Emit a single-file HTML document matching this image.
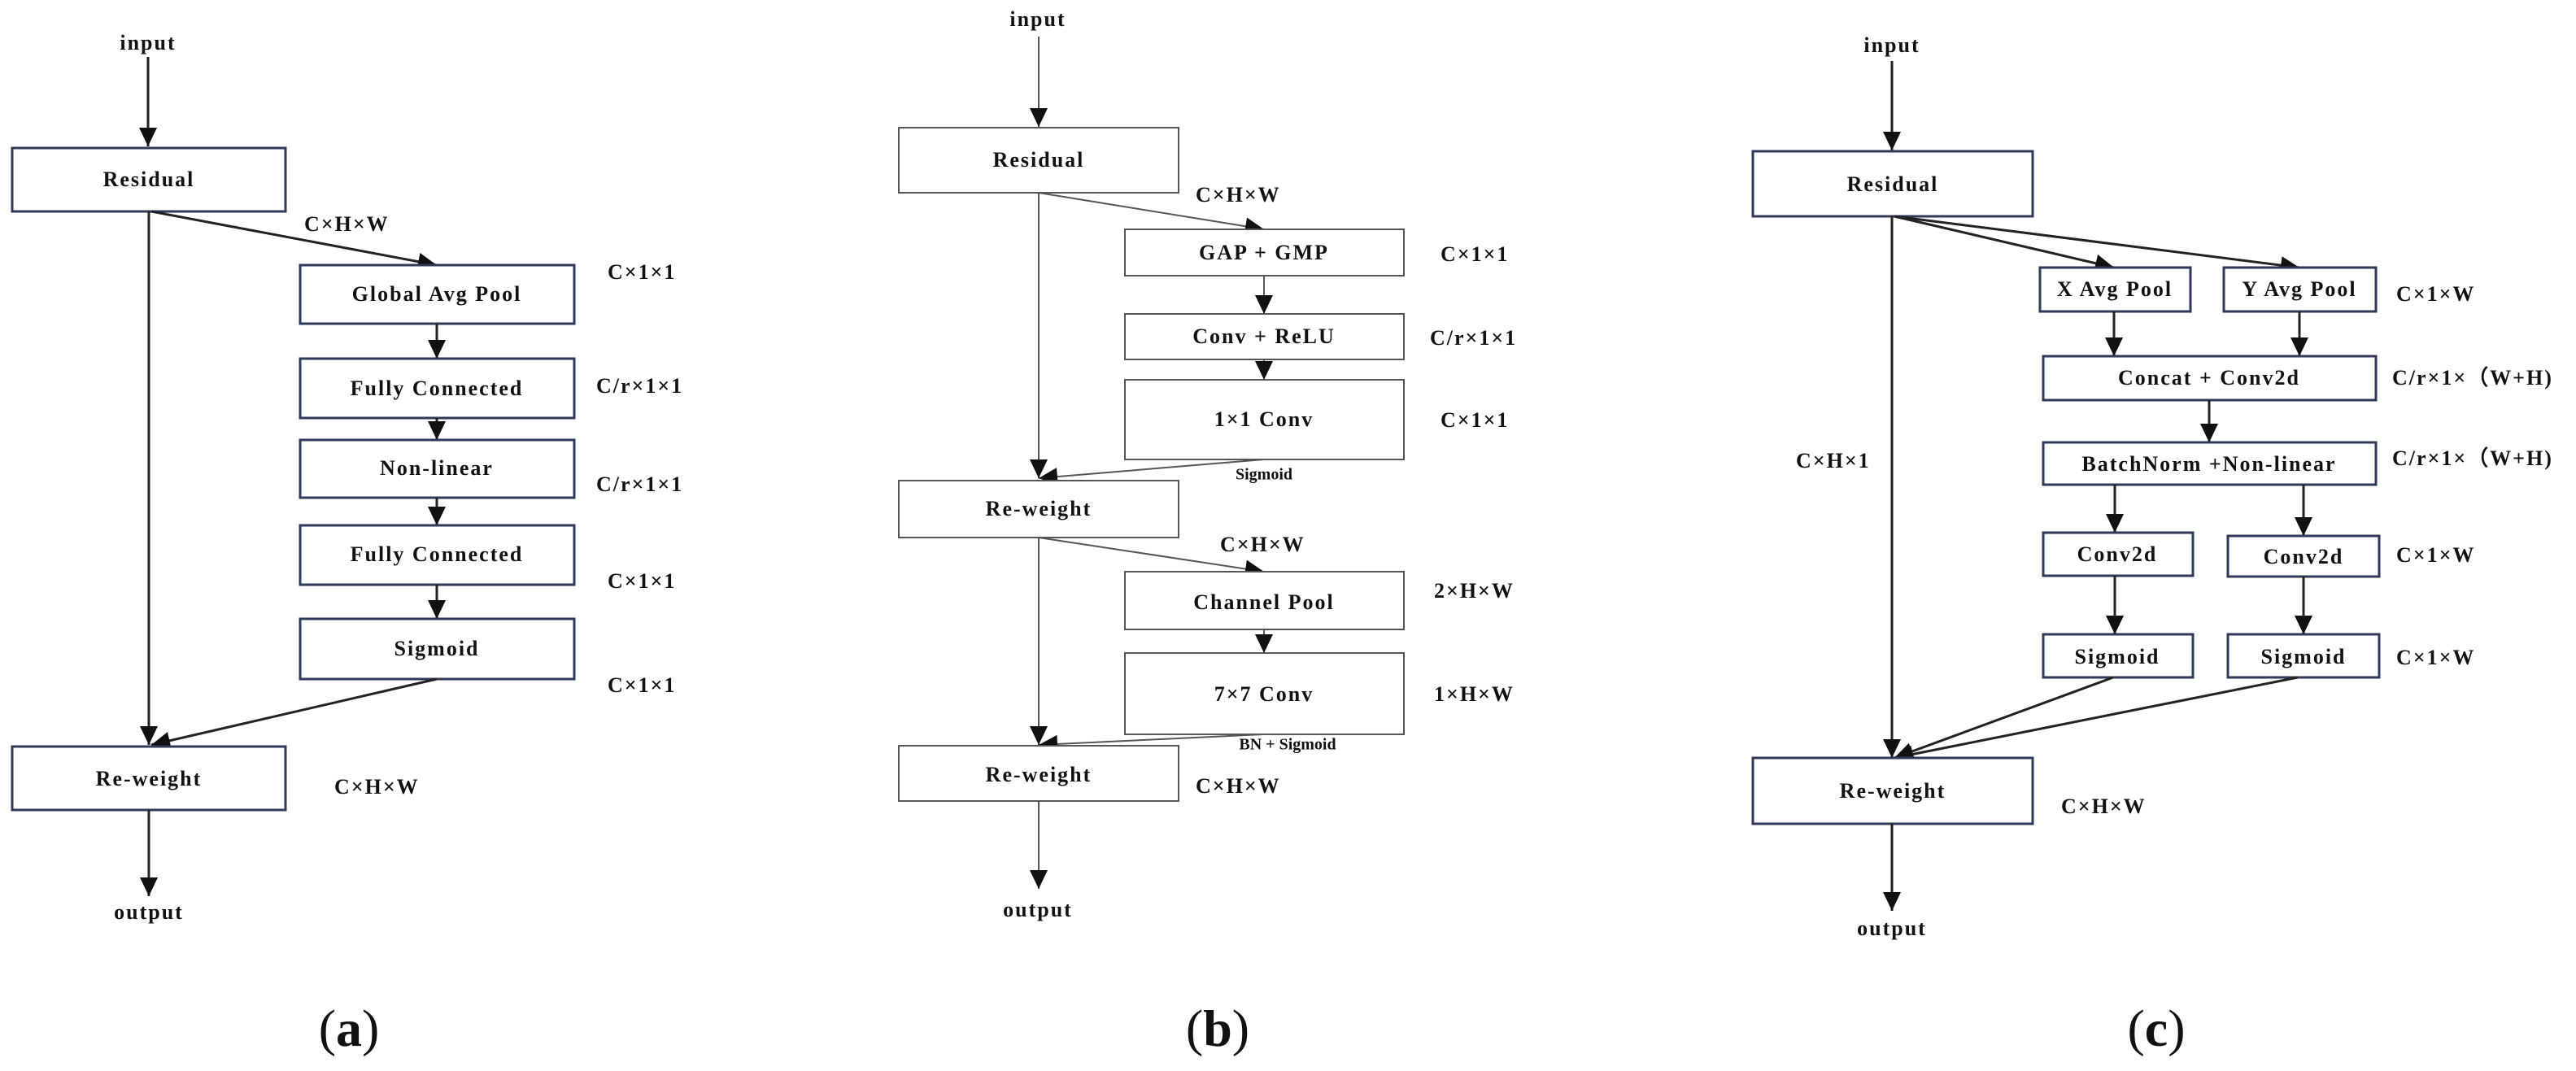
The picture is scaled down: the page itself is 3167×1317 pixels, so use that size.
<!DOCTYPE html>
<html><head><meta charset="utf-8"><style>
html,body{margin:0;padding:0;background:#fff;}
svg{display:block;}
text{font-family:"Liberation Serif",serif;font-weight:bold;font-size:26px;fill:#111;letter-spacing:2px;}
.l{dominant-baseline:middle;}
.c{text-anchor:middle;dominant-baseline:middle;}
.cap{font-size:64px;font-weight:normal;letter-spacing:0;}
.cap b{font-weight:bold;}
rect{fill:#fff;stroke:#2f3a5a;stroke-width:3;}
line{stroke:#222;stroke-width:3;}
.g line{stroke:#555;stroke-width:2;}
.g rect{stroke:#555;stroke-width:2;}
</style></head><body>
<svg width="3167" height="1317" viewBox="0 0 3167 1317" xmlns="http://www.w3.org/2000/svg">
<defs>
<marker id="ah" markerWidth="10" markerHeight="10" refX="9" refY="5" orient="auto" markerUnits="userSpaceOnUse" viewBox="0 0 10 10" style="overflow:visible">
<path d="M-14,-6 L9,5 L-14,16 Z" fill="#111"/>
</marker>
</defs>
<style>.a{marker-end:url(#ah);}</style>

<!-- Panel (a) -->
<text class="c" x="182" y="55">input</text>
<line class="a" x1="182" y1="70" x2="182" y2="180"/>
<rect x="15" y="182" width="336" height="78"/>
<text class="c" x="183" y="223">Residual</text>
<line class="a" x1="183" y1="260" x2="183" y2="916"/>
<line class="a" x1="186" y1="260" x2="537" y2="326"/>
<text class="l" x="374" y="278">C×H×W</text>
<rect x="369" y="326" width="337" height="72"/>
<text class="c" x="537" y="364">Global Avg Pool</text>
<line class="a" x1="537" y1="398" x2="537" y2="441"/>
<rect x="369" y="441" width="337" height="73"/>
<text class="c" x="537" y="480">Fully Connected</text>
<line class="a" x1="537" y1="514" x2="537" y2="541"/>
<rect x="369" y="541" width="337" height="71"/>
<text class="c" x="537" y="578">Non-linear</text>
<line class="a" x1="537" y1="612" x2="537" y2="646"/>
<rect x="369" y="646" width="337" height="73"/>
<text class="c" x="537" y="684">Fully Connected</text>
<line class="a" x1="537" y1="719" x2="537" y2="761"/>
<rect x="369" y="761" width="337" height="74"/>
<text class="c" x="537" y="800">Sigmoid</text>
<line class="a" x1="537" y1="835" x2="186" y2="916"/>
<text class="l" x="747" y="337">C×1×1</text>
<text class="l" x="733" y="477">C/r×1×1</text>
<text class="l" x="733" y="598">C/r×1×1</text>
<text class="l" x="747" y="717">C×1×1</text>
<text class="l" x="747" y="845">C×1×1</text>
<rect x="15" y="918" width="336" height="78"/>
<text class="c" x="183" y="960">Re-weight</text>
<text class="l" x="411" y="970">C×H×W</text>
<line class="a" x1="183" y1="996" x2="183" y2="1102"/>
<text class="c" x="183" y="1124">output</text>
<text class="c cap" x="429" y="1271">(<tspan font-weight="bold">a</tspan>)</text>

<!-- Panel (b) -->
<g class="g">
<text class="c" x="1276" y="26">input</text>
<line class="a" x1="1277" y1="45" x2="1277" y2="156"/>
<rect x="1105" y="157" width="344" height="80"/>
<text class="c" x="1277" y="199">Residual</text>
<line class="a" x1="1277" y1="237" x2="1277" y2="588"/>
<line class="a" x1="1277" y1="237" x2="1554" y2="282"/>
<text class="l" x="1470" y="242">C×H×W</text>
<rect x="1383" y="282" width="343" height="57"/>
<text class="c" x="1554" y="313">GAP + GMP</text>
<line class="a" x1="1554" y1="339" x2="1554" y2="386"/>
<rect x="1383" y="386" width="343" height="56"/>
<text class="c" x="1554" y="416">Conv + ReLU</text>
<line class="a" x1="1554" y1="442" x2="1554" y2="467"/>
<rect x="1383" y="467" width="343" height="98"/>
<text class="c" x="1554" y="518">1×1 Conv</text>
<line class="a" x1="1554" y1="565" x2="1277" y2="588"/>
<text class="c" x="1554" y="585" style="font-size:20px;letter-spacing:0">Sigmoid</text>
<rect x="1105" y="591" width="344" height="70"/>
<text class="c" x="1277" y="628">Re-weight</text>
<line class="a" x1="1277" y1="661" x2="1277" y2="916"/>
<line class="a" x1="1277" y1="661" x2="1554" y2="703"/>
<text class="l" x="1500" y="672">C×H×W</text>
<rect x="1383" y="703" width="343" height="71"/>
<text class="c" x="1554" y="743">Channel Pool</text>
<line class="a" x1="1554" y1="774" x2="1554" y2="803"/>
<rect x="1383" y="803" width="343" height="100"/>
<text class="c" x="1554" y="856">7×7 Conv</text>
<line class="a" x1="1554" y1="903" x2="1277" y2="916"/>
<text class="c" x="1583" y="917" style="font-size:20px;letter-spacing:0">BN + Sigmoid</text>
<rect x="1105" y="917" width="344" height="68"/>
<text class="c" x="1277" y="955">Re-weight</text>
<line class="a" x1="1277" y1="985" x2="1277" y2="1093"/>
<text class="c" x="1276" y="1121">output</text>
<text class="l" x="1771" y="315">C×1×1</text>
<text class="l" x="1758" y="418">C/r×1×1</text>
<text class="l" x="1771" y="519">C×1×1</text>
<text class="l" x="1763" y="729">2×H×W</text>
<text class="l" x="1763" y="856">1×H×W</text>
<text class="l" x="1470" y="969">C×H×W</text>
</g>
<text class="c cap" x="1497" y="1271">(<tspan font-weight="bold">b</tspan>)</text>

<!-- Panel (c) -->
<text class="c" x="2326" y="58">input</text>
<line class="a" x1="2326" y1="75" x2="2326" y2="185"/>
<rect x="2155" y="186" width="344" height="80"/>
<text class="c" x="2327" y="229">Residual</text>
<line class="a" x1="2326" y1="266" x2="2326" y2="932"/>
<line class="a" x1="2329" y1="266" x2="2599" y2="329"/>
<line class="a" x1="2329" y1="266" x2="2827" y2="329"/>
<rect x="2508" y="329" width="185" height="54"/>
<text class="c" x="2600" y="358">X Avg Pool</text>
<rect x="2734" y="329" width="187" height="54"/>
<text class="c" x="2827" y="358">Y Avg Pool</text>
<line class="a" x1="2599" y1="383" x2="2599" y2="438"/>
<line class="a" x1="2827" y1="383" x2="2827" y2="438"/>
<rect x="2512" y="438" width="409" height="54"/>
<text class="c" x="2716" y="467">Concat + Conv2d</text>
<line class="a" x1="2716" y1="492" x2="2716" y2="544"/>
<rect x="2512" y="544" width="409" height="52"/>
<text class="c" x="2716" y="573">BatchNorm +Non-linear</text>
<line class="a" x1="2600" y1="596" x2="2600" y2="655"/>
<line class="a" x1="2832" y1="596" x2="2832" y2="659"/>
<rect x="2512" y="655" width="184" height="53"/>
<text class="c" x="2603" y="684">Conv2d</text>
<rect x="2739" y="659" width="186" height="50"/>
<text class="c" x="2832" y="687">Conv2d</text>
<line class="a" x1="2600" y1="708" x2="2600" y2="780"/>
<line class="a" x1="2832" y1="709" x2="2832" y2="780"/>
<rect x="2512" y="780" width="184" height="53"/>
<text class="c" x="2603" y="810">Sigmoid</text>
<rect x="2739" y="780" width="186" height="53"/>
<text class="c" x="2832" y="810">Sigmoid</text>
<line class="a" x1="2598" y1="833" x2="2329" y2="932"/>
<line class="a" x1="2825" y1="833" x2="2329" y2="932"/>
<text class="l" x="2208" y="569">C×H×1</text>
<text class="l" x="2946" y="364">C×1×W</text>
<text class="l" x="2941" y="467">C/r×1×（W+H)</text>
<text class="l" x="2941" y="566">C/r×1×（W+H)</text>
<text class="l" x="2946" y="685">C×1×W</text>
<text class="l" x="2946" y="811">C×1×W</text>
<rect x="2155" y="932" width="344" height="81"/>
<text class="c" x="2327" y="975">Re-weight</text>
<text class="l" x="2534" y="994">C×H×W</text>
<line class="a" x1="2326" y1="1013" x2="2326" y2="1120"/>
<text class="c" x="2326" y="1144">output</text>
<text class="c cap" x="2651" y="1271">(<tspan font-weight="bold">c</tspan>)</text>
</svg>
</body></html>
